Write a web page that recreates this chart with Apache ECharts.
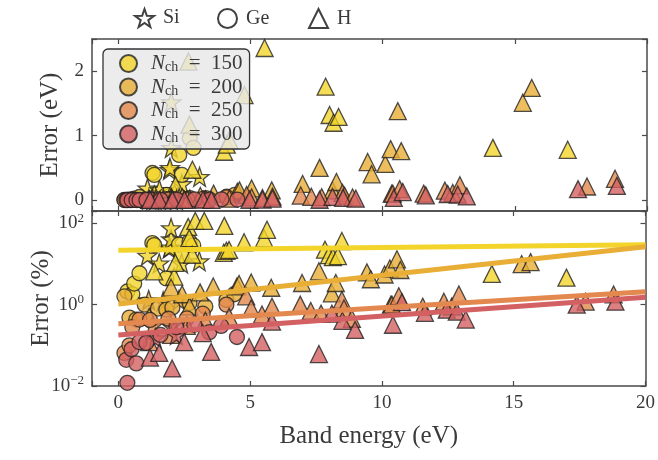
<!DOCTYPE html>
<html><head><meta charset="utf-8">
<script src="https://cdn.jsdelivr.net/npm/echarts@6/dist/echarts.min.js"></script>
<style>html,body{margin:0;padding:0;background:#fff}#c{width:658px;height:460px}</style>
</head><body><div id="c"></div>
<script>
// ---- tick labels ----
const xTicks = [0, 5, 10, 15, 20];
const evTicks = [0, 1, 2];
const pctTickExps = [-2, 0, 2];
const nchValues = ['150', '200', '250', '300'];
const materials = ['Si', 'Ge', 'H'];

// ---- data: [band energy (eV), error (eV), error (%)] ----
const Si_150 = [[1.10,0.18,16],[1.55,0.16,10.4],[1.93,0.47,24],[1.95,0.50,25.6],[2.0,0.81,40.5],[2.0,1.52,76],[2.4,0.25,10.4],[3.07,0.36,11.7]];
const Ge_150 = [[0.34,0.007,2.1],[0.53,0.01,1.8],[0.6,0.02,3.3],[0.8,0.047,5.9],[1.29,0.42,32.5],[1.36,0.39,29],[1.82,0.08,4.4],[2.3,0.70,30],[2.4,0.39,16],[2.7,0.96,35.5],[2.84,0.81,28.5]];
const H_150 = [[1.36,0.09,6.6],[2.12,0.10,4.9],[2.16,0.23,10.6],[2.65,2.15,81],[2.69,1.17,43],[2.8,0.47,16.8],[2.92,3.3,114],[3.26,3.7,114],[4.0,0.75,18.8],[4.02,3.46,86],[4.1,0.86,21],[4.2,0.93,22.1],[4.77,1.63,34],[5.53,2.36,42.7],[5.64,3.9,69],[7.84,1.76,22.4],[7.99,1.32,16.5],[8.14,1.20,14.7],[8.33,1.29,15.5],[8.48,3.1,36.6],[14.17,0.81,5.7],[17.0,0.78,4.6]];

const Si_200 = [[1.15,0.015,1.3],[1.7,0.02,1.2],[2.3,0.03,1.3]];
const Ge_200 = [[0.23,0.0037,1.6],[0.42,0.002,0.48],[0.68,0.003,0.43],[1.0,0.01,1.0],[1.5,0.012,0.8],[1.82,0.014,0.75],[2.05,0.017,0.85],[2.7,0.03,1.1],[3.3,0.03,0.9],[4.1,0.054,1.3],[4.4,0.08,1.8]];
const H_200 = [[1.17,0.006,0.5],[2.0,0.052,2.6],[2.42,0.044,1.8],[2.7,0.024,0.9],[3.1,0.062,2.0],[3.6,0.10,2.8],[4.5,0.13,2.8],[4.58,0.15,3.2],[5.04,0.18,3.5],[5.8,0.15,2.6],[6.97,0.25,3.4],[7.61,0.50,6.6],[8.1,0.15,1.9],[8.25,0.28,3.4],[9.43,0.59,6.2],[9.58,0.40,4.2],[10.1,0.56,5.5],[10.3,0.79,7.7],[10.57,1.38,13],[10.7,0.76,7.1],[15.3,1.51,9.9],[15.64,1.74,11.1]];

const Si_250 = [[1.3,0.004,0.3],[2.0,0.006,0.3]];
const Ge_250 = [[0.23,0.00015,0.065],[0.42,0.0004,0.1],[0.53,0.0015,0.28],[0.8,0.0034,0.43],[1.2,0.005,0.42],[1.9,0.0085,0.45],[2.6,0.012,0.46],[3.2,0.019,0.6],[4.1,0.041,1.0]];
const H_250 = [[1.17,0.0014,0.12],[2.0,0.0036,0.18],[2.6,0.008,0.3],[3.3,0.013,0.4],[4.2,0.021,0.5],[4.85,0.078,1.6],[5.04,0.04,0.8],[5.45,0.031,0.57],[5.83,0.052,0.89],[6.9,0.07,1.0],[7.3,0.05,0.7],[7.69,0.046,0.6],[8.48,0.11,1.3],[8.56,0.068,0.8],[8.86,0.04,0.45],[10.34,0.10,1.0],[10.38,0.10,1.0],[10.64,0.17,1.6],[11.55,0.10,0.89],[12.35,0.146,1.18],[12.65,0.11,0.9],[12.92,0.23,1.78],[17.73,0.21,1.18],[18.79,0.33,1.78]];

const Si_300 = [[1.4,0.002,0.15],[2.2,0.004,0.18]];
const Ge_300 = [[0.3,0.00013,0.044],[0.34,0.00004,0.012],[0.5,0.0004,0.08],[0.68,0.00024,0.036],[0.8,0.001,0.12],[1.06,0.0012,0.115],[1.6,0.003,0.18],[2.2,0.006,0.28],[2.88,0.0092,0.32],[3.45,0.0072,0.21],[3.9,0.012,0.3],[4.5,0.0072,0.16]];
const H_300 = [[1.2,0.0006,0.05],[1.55,0.001,0.065],[2.04,0.00055,0.027],[2.5,0.003,0.12],[3.2,0.0064,0.2],[3.52,0.0024,0.069],[4.96,0.0045,0.091],[5.45,0.0065,0.12],[5.83,0.022,0.38],[7.61,0.0046,0.061],[8.1,0.049,0.6],[8.5,0.034,0.4],[8.98,0.022,0.24],[10.42,0.033,0.32],[10.76,0.124,1.15],[11.63,0.073,0.63],[12.46,0.094,0.75],[12.84,0.086,0.67],[13.18,0.057,0.43],[17.39,0.17,1.0],[18.86,0.22,1.18]];

// fitted lines (error % vs band energy), end points
const fit_150 = [[0,21.8],[20,29.5]];
const fit_200 = [[0,1.04],[20,26.3]];
const fit_250 = [[0,0.34],[20,2.07]];
const fit_300 = [[0,0.18],[20,1.52]];

const groups = {
  '150': {Si: Si_150, Ge: Ge_150, H: H_150, fit: fit_150},
  '200': {Si: Si_200, Ge: Ge_200, H: H_200, fit: fit_200},
  '250': {Si: Si_250, Ge: Ge_250, H: H_250, fit: fit_250},
  '300': {Si: Si_300, Ge: Ge_300, H: H_300, fit: fit_300}
};
const colors = {'150': '#f3d42a', '200': '#e8ae36', '250': '#e3884e', '300': '#d36062'};
const symbols = {Si: 'path://M0,-10L2.35,-3.24L9.51,-3.09L3.8,1.24L5.88,8.09L0,4L-5.88,8.09L-3.8,1.24L-9.51,-3.09L-2.35,-3.24Z', Ge: 'circle', H: 'triangle'};
const symSize = {Si: 19, Ge: 15, H: 17};

const FONT = 'Liberation Serif';
const TXT = '#3a3a3a';
const AX = '#4a4a4a';

const chart = echarts.init(document.getElementById('c'), null, {renderer: 'canvas'});

function xAx(grid, pos, labels, name) {
  return {
    type: 'value', gridIndex: grid, position: pos, min: -1, max: 20, splitNumber: 4,
    axisLine: {show: true, onZero: false, lineStyle: {color: AX, width: 1.5}},
    axisTick: {show: true, inside: true, length: 5, lineStyle: {color: AX, width: 1.2}},
    splitLine: {show: false},
    axisLabel: {show: labels, color: TXT, fontFamily: FONT, fontSize: 19, margin: 8,
      formatter: v => xTicks.includes(v) ? String(v) : ''},
    name: name || '', nameLocation: 'middle', nameGap: 38, nameMoveOverlap: false,
    nameTextStyle: {color: TXT, fontFamily: FONT, fontSize: 25}
  };
}
function yEv(pos, labels) {
  return {
    type: 'value', gridIndex: 0, position: pos, min: -0.17, max: 2.5, splitNumber: 2,
    axisLine: {show: true, onZero: false, lineStyle: {color: AX, width: 1.5}},
    axisTick: {show: true, inside: true, length: 5, lineStyle: {color: AX, width: 1.2}},
    splitLine: {show: false},
    axisLabel: {show: labels, color: TXT, fontFamily: FONT, fontSize: 19, margin: 8,
      formatter: v => evTicks.includes(v) ? String(v) : ''},
    name: labels ? 'Error (eV)' : '', nameLocation: 'middle', nameGap: 29, nameMoveOverlap: false,
    nameTextStyle: {color: TXT, fontFamily: FONT, fontSize: 25}
  };
}
function yPct(pos, labels) {
  return {
    type: 'log', logBase: 10, gridIndex: 1, position: pos, min: 0.01, max: 200, interval: 2,
    axisLine: {show: true, onZero: false, lineStyle: {color: AX, width: 1.5}},
    axisTick: {show: true, inside: true, length: 5, lineStyle: {color: AX, width: 1.2}},
    minorTick: {show: false}, splitLine: {show: false},
    axisLabel: {show: labels, color: TXT, fontFamily: FONT, fontSize: 19, margin: 8,
      formatter: v => {
        const e = Math.round(Math.log10(v));
        if (Math.abs(Math.log10(v) - e) > 1e-6 || !pctTickExps.includes(e)) return '';
        return '10{s|' + (e < 0 ? '\u2212' + (-e) : e) + '}';
      },
      rich: {s: {fontSize: 13, fontFamily: FONT, color: TXT, verticalAlign: 'top', padding: [0, 0, 10, 0]}}
    },
    name: labels ? 'Error (%)' : '', nameLocation: 'middle', nameGap: 38, nameMoveOverlap: false,
    nameTextStyle: {color: TXT, fontFamily: FONT, fontSize: 25}
  };
}

const series = [];
nchValues.forEach(n => {
  materials.forEach(m => {
    const arr = groups[n][m];
    const style = {color: colors[n], borderColor: '#222', borderWidth: 1.3};
    series.push({type: 'scatter', xAxisIndex: 0, yAxisIndex: 0, clip: true,
      symbol: symbols[m], symbolSize: symSize[m], itemStyle: style,
      data: arr.map(p => [p[0], p[1]]), silent: true, z: 2});
    series.push({type: 'scatter', xAxisIndex: 2, yAxisIndex: 2, clip: true,
      symbol: symbols[m], symbolSize: symSize[m], itemStyle: style,
      data: arr.map(p => [p[0], p[2]]), silent: true, z: 2});
  });
});
nchValues.forEach(n => {
  series.push({type: 'line', xAxisIndex: 2, yAxisIndex: 2, clip: true, symbol: 'none',
    lineStyle: {color: colors[n], width: 5}, data: groups[n].fit, silent: true, z: 3});
});
// legend-only series
materials.forEach(m => {
  series.push({type: 'scatter', name: m, xAxisIndex: 0, yAxisIndex: 0, data: [],
    symbol: symbols[m], itemStyle: {color: 'rgba(255,255,255,0)', borderColor: '#111', borderWidth: 1.5}});
});
nchValues.forEach(n => {
  series.push({type: 'scatter', name: 'N' + n, xAxisIndex: 0, yAxisIndex: 0, data: [],
    symbol: 'circle', itemStyle: {color: colors[n], borderColor: '#222', borderWidth: 1.3}});
});

const topLegendPos = {Si: 134, Ge: 217, H: 308};
const legends = materials.map(m => ({
  data: [m], left: topLegendPos[m], top: 8, padding: 0, selectedMode: false,
  itemWidth: 19, itemHeight: 19,
  textStyle: {fontFamily: FONT, fontSize: 20, color: TXT, padding: [0, 0, 0, 4]}
}));
legends.push({
  data: nchValues.map(n => 'N' + n), orient: 'vertical', left: 103, top: 49,
  padding: [4, 7, 4, 16], itemGap: 2, itemWidth: 17, itemHeight: 17, selectedMode: false,
  backgroundColor: 'rgba(232,232,232,0.82)', borderColor: '#333', borderWidth: 1.3, borderRadius: 5,
  formatter: name => '{i|N}{s|ch}{t|\u2002=\u2002' + name.slice(1) + '}',
  textStyle: {fontFamily: FONT, fontSize: 21, color: TXT, padding: [0, 0, 0, 9],
    rich: {
      i: {fontFamily: FONT, fontStyle: 'italic', fontSize: 21, color: TXT},
      s: {fontFamily: FONT, fontSize: 14, color: TXT, verticalAlign: 'bottom', padding: [8, 0, 0, 0]},
      t: {fontFamily: FONT, fontSize: 21, color: TXT}
    }}
});

chart.setOption({
  animation: false,
  backgroundColor: '#fff',
  grid: [
    {left: 92, right: 11, top: 39, height: 172},
    {left: 92, right: 11, top: 211, height: 175}
  ],
  xAxis: [xAx(0, 'bottom', false), xAx(0, 'top', false), xAx(1, 'bottom', true, 'Band energy (eV)'), xAx(1, 'top', false)],
  yAxis: [yEv('left', true), yEv('right', false), yPct('left', true), yPct('right', false)],
  legend: legends,
  series: series
});
</script></body></html>
